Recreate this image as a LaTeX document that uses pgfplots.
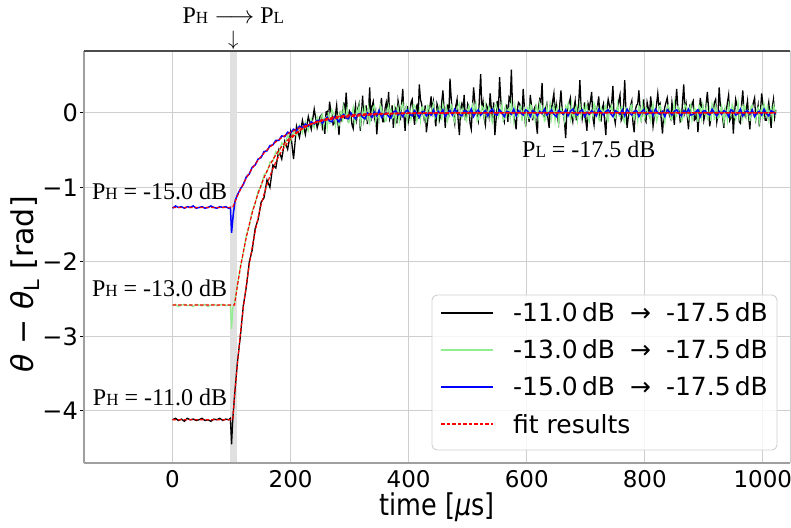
\documentclass[border=0pt]{standalone}
\usepackage{graphicx}
\usepackage{pgfplots}
\pgfplotsset{compat=1.18}
\usepackage{fontspec}
\setmainfont{DejaVu Sans}
\newfontfamily\serifTNR{Liberation Serif}
\definecolor{lgreen}{HTML}{90EE90}
\definecolor{gridgray}{HTML}{CFCFCF}
\definecolor{bandgray}{HTML}{E0E0E0}
\definecolor{fitred}{HTML}{FF0000}
\begin{document}
\begin{tikzpicture}
\path[use as bounding box] (-84pt,-64pt) rectangle (707pt,463pt);
\begin{axis}[
  at={(0pt,0pt)}, anchor=south west,
  scale only axis, width=706pt, height=412pt,
  xmin=-150, xmax=1046, ymin=-4.70, ymax=0.83,
  xtick={0,200,400,600,800,1000},
  xticklabels={0,200,400,600,800,1000},
  ytick={-4,-3,-2,-1,0},
  yticklabels={−4,−3,−2,−1,0},
  grid=major, grid style={color=gridgray, line width=0.9pt},
  yticklabel style={font=\fontsize{24}{28}\selectfont, inner sep=2pt},
  xticklabel style={font=\fontsize{23}{27}\selectfont, inner sep=1pt, yshift=-2pt},
  xtick style={draw=none},
  ytick style={black, line width=0.9pt},
  tick align=outside, major tick length=4pt,
  axis line style={draw=none},
  xlabel={\scalebox{0.85}[1]{time [{\itshape μ}s]}},
  ylabel={{\itshape θ} − {\itshape θ}\textsubscript{L} [rad]},
  label style={font=\fontsize{30}{34}\selectfont},
  xlabel style={at={(rel axis cs:0.5,0)}, anchor=center, inner sep=0pt, yshift=-44pt},
  ylabel style={at={(rel axis cs:0,0.434)}, anchor=center, yshift=59pt},
  clip=false,
]
\addplot[fill=bandgray, draw=none, forget plot] coordinates {(97,-4.70) (110,-4.70) (110,0.83) (97,0.83)} -- cycle;

% black: -11.0 dB -> -17.5 dB
\addplot[color=black, line width=1.3pt] coordinates {
(0,-4.12)(5,-4.10)(10,-4.13)(15,-4.11)(20,-4.14)(25,-4.10)(30,-4.12)(35,-4.11)(40,-4.13)(45,-4.12)(50,-4.10)(55,-4.13)(60,-4.12)(65,-4.14)(70,-4.11)(75,-4.12)(80,-4.10)(85,-4.13)(90,-4.11)(95,-4.12)(98,-4.10)(100,-4.45)(102,-4.12)(105,-3.80)(110,-3.34)(115,-2.99)(120,-2.58)(125,-2.34)(130,-2.00)(135,-1.84)(140,-1.55)(145,-1.43)(150,-1.20)(155,-1.14)(160,-0.90)(165,-1.00)(170,-0.70)(175,-0.74)(180,-0.50)(185,-0.62)(190,-0.38)(195,-0.49)(200,-0.26)(205,-0.62)(210,-0.18)(215,-0.33)(220,-0.10)(225,-0.29)(230,-0.05)(235,-0.22)(240,0.05)(245,-0.20)
(250,-0.05)(252,-0.03)(254,-0.21)(256,-0.17)(258,-0.28)(260,0.01)(262,0.02)(264,-0.11)(266,0.15)(268,0.03)
(270,-0.03)(272,-0.16)(274,-0.14)(276,-0.02)(278,0.10)(280,-0.12)(282,-0.30)(284,0.02)(286,-0.09)(288,-0.04)
(290,0.14)(292,-0.08)(294,0.27)(296,0.06)(298,-0.13)(300,0.02)(302,-0.01)(304,-0.16)(306,-0.21)(308,-0.02)
(310,0.10)(312,-0.08)(314,0.06)(316,0.12)(318,-0.24)(320,-0.02)(322,0.23)(324,-0.10)(326,-0.02)(328,0.10)
(330,-0.15)(332,0.03)(334,0.34)(336,-0.11)(338,0.09)(340,0.15)(342,-0.07)(344,0.01)(346,-0.29)(348,-0.07)
(350,0.04)(352,0.08)(354,0.20)(356,-0.12)(358,-0.12)(360,0.06)(362,0.14)(364,0.00)(366,0.28)(368,-0.08)
(370,-0.02)(372,0.10)(374,-0.20)(376,0.02)(378,0.06)(380,-0.14)(382,0.16)(384,0.06)(386,-0.10)(388,0.12)(390,0.32)(392,-0.04)(394,-0.24)(396,0.08)(398,0.08)(400,-0.10)(402,0.00)(404,0.14)(406,0.18)(408,-0.02)
(410,-0.16)(412,0.06)(414,0.10)(416,-0.08)(418,0.38)(420,0.18)(422,0.12)(424,0.00)(426,-0.08)(428,0.10)(430,-0.26)(432,-0.12)(434,0.04)(436,0.08)(438,0.22)(440,0.02)(442,0.14)(444,-0.06)(446,-0.18)(448,0.12)
(450,0.06)(452,-0.10)(454,-0.04)(456,0.14)(458,0.30)(460,0.04)(462,-0.20)(464,0.08)(466,0.10)(468,-0.06)(470,0.46)(472,0.20)(474,0.02)(476,-0.04)(478,-0.14)(480,0.10)(482,0.18)(484,-0.12)(486,-0.30)(488,0.06)
(490,0.12)(492,0.02)(494,0.24)(496,-0.08)(498,-0.06)(500,0.12)(502,0.08)(504,-0.14)(506,-0.22)(508,0.06)(510,0.34)(512,0.16)(514,0.04)(516,-0.02)(518,-0.10)(520,0.22)(522,0.52)(524,0.04)(526,0.14)(528,-0.08)
(530,-0.16)(532,0.10)(534,0.06)(536,-0.04)(538,0.26)(540,0.06)(542,-0.08)(544,0.14)(546,-0.30)(548,-0.10)(550,0.16)(552,0.02)(554,0.48)(556,0.18)(558,0.00)(560,-0.06)(562,-0.12)(564,0.08)(566,0.10)(568,-0.12)
(570,0.20)(572,0.16)(574,0.58)(576,0.06)(578,-0.04)(580,-0.10)(582,-0.22)(584,0.04)(586,0.14)(588,0.12)(590,0.06)(592,-0.06)(594,0.32)(596,0.08)(598,-0.18)(600,0.00)(602,0.02)(604,-0.12)(606,0.24)(608,0.10)
(610,-0.10)(612,0.04)(614,0.08)(616,-0.14)(618,-0.28)(620,0.08)(622,0.18)(624,0.14)(626,0.40)(628,-0.02)(630,-0.06)(632,0.06)(634,0.12)(636,-0.08)(638,-0.20)(640,0.10)(642,0.04)(644,0.16)(646,0.26)(648,-0.04)
(650,0.10)(652,-0.06)(654,-0.14)(656,0.12)(658,0.30)(660,0.04)(662,-0.02)(664,-0.12)(666,-0.34)(668,0.02)(670,0.08)(672,0.14)(674,0.20)(676,-0.04)(678,-0.12)(680,0.06)(682,0.16)(684,-0.10)(686,0.02)(688,0.12)
(690,0.44)(692,0.08)(694,-0.08)(696,0.02)(698,0.14)(700,-0.10)(702,-0.24)(704,0.12)(706,0.06)(708,0.16)(710,0.28)(712,-0.06)(714,-0.16)(716,0.04)(718,0.00)(720,0.10)(722,0.22)(724,-0.08)(726,-0.10)(728,0.06)
(730,0.12)(732,-0.12)(734,-0.30)(736,0.06)(738,0.18)(740,0.10)(742,0.04)(744,0.14)(746,0.36)(748,-0.04)(750,-0.14)(752,0.02)(754,0.08)(756,0.16)(758,0.24)(760,-0.10)(762,-0.06)(764,0.08)(766,0.44)(768,0.04)
(770,-0.20)(772,-0.06)(774,0.02)(776,0.10)(778,0.16)(780,-0.14)(782,-0.26)(784,0.04)(786,0.10)(788,0.12)(790,0.30)(792,0.06)(794,-0.08)(796,0.02)(798,0.18)(800,-0.08)(802,-0.12)(804,0.14)(806,0.06)(808,-0.02)
(810,0.22)(812,0.04)(814,-0.18)(816,-0.06)(818,0.00)(820,0.12)(822,0.26)(824,0.08)(826,0.12)(828,-0.10)(830,-0.28)(832,0.00)(834,0.08)(836,0.14)(838,0.20)(840,0.06)(842,-0.04)(844,-0.08)(846,0.14)(848,0.02)
(850,-0.16)(852,0.10)(854,0.32)(856,0.06)(858,0.06)(860,-0.12)(862,-0.10)(864,0.16)(866,0.38)(868,0.02)(870,0.12)(872,-0.04)(874,-0.22)(876,0.08)(878,0.04)(880,0.12)(882,0.16)(884,-0.10)(886,-0.08)(888,0.04)
(890,-0.26)(892,-0.04)(894,0.20)(896,0.08)(898,0.10)(900,-0.10)(902,-0.02)(904,0.12)(906,0.28)(908,0.06)(910,-0.18)(912,-0.06)(914,0.06)(916,0.02)(918,0.14)(920,0.18)(922,-0.12)(924,-0.02)(926,0.34)(928,0.10)
(930,0.08)(932,-0.08)(934,-0.20)(936,0.04)(938,0.02)(940,0.14)(942,0.24)(944,-0.10)(946,-0.06)(948,0.06)(950,-0.28)(952,0.00)(954,0.18)(956,0.10)(958,0.10)(960,-0.12)(962,-0.14)(964,0.12)(966,0.30)(968,0.02)
(970,-0.04)(972,0.06)(974,0.16)(976,-0.06)(978,-0.22)(980,0.04)(982,0.06)(984,0.14)(986,0.20)(988,-0.08)(990,0.00)(992,0.10)(994,-0.18)(996,0.02)(998,0.26)(1000,0.12)(1002,0.08)(1004,-0.10)(1006,-0.10)(1008,0.04)
(1010,0.14)(1012,-0.04)(1014,-0.20)(1016,0.08)(1018,0.18)(1020,-0.06)(1022,0.04)
};

% green: -13.0 dB -> -17.5 dB
\addplot[color=lgreen, line width=1.3pt] coordinates {
(0,-2.59)(5,-2.57)(10,-2.60)(15,-2.58)(20,-2.57)(25,-2.59)(30,-2.58)(35,-2.60)(40,-2.57)(45,-2.58)(50,-2.59)(55,-2.57)(60,-2.60)(65,-2.58)(70,-2.57)(75,-2.59)(80,-2.58)(85,-2.57)(90,-2.59)(95,-2.58)(98,-2.58)(100,-2.90)(102,-2.62)(105,-2.55)(110,-2.30)(115,-2.06)(120,-1.88)(125,-1.64)(130,-1.52)(135,-1.31)(140,-1.22)(145,-1.05)(150,-0.99)(155,-0.83)(160,-0.80)(165,-0.66)(170,-0.65)(175,-0.52)(180,-0.55)(185,-0.40)(190,-0.45)(195,-0.30)(200,-0.38)(205,-0.24)(210,-0.31)(215,-0.17)(220,-0.27)(225,-0.12)(230,-0.24)(235,-0.08)(240,-0.20)(245,-0.05)
(250,-0.15)(252,-0.04)(254,-0.02)(256,-0.18)(258,-0.07)(260,-0.06)(262,-0.19)(264,0.01)(266,-0.14)(268,-0.13)
(270,0.04)(272,0.01)(274,-0.02)(276,-0.17)(278,-0.08)(280,-0.04)(282,-0.18)(284,0.02)(286,0.02)(288,-0.12)
(290,0.07)(292,-0.03)(294,-0.07)(296,0.05)(298,-0.13)(300,-0.11)(302,0.00)(304,0.00)(306,0.07)(308,-0.14)
(310,-0.10)(312,0.04)(314,-0.02)(316,0.09)(318,-0.16)(320,-0.05)(322,0.04)(324,-0.10)(326,0.07)(328,0.00)
(330,-0.07)(332,0.06)(334,-0.13)(336,-0.07)(338,0.01)(340,0.08)(342,0.10)(344,-0.11)(346,-0.02)(348,0.01)
(350,-0.09)(352,0.11)(354,0.06)(356,-0.03)(358,0.01)(360,-0.11)(362,-0.11)(364,0.04)(366,0.10)(368,-0.01)
(370,0.04)(372,-0.08)(374,-0.06)(376,0.06)(378,-0.12)(380,0.02)(382,0.08)(384,-0.11)(386,0.01)(388,0.09)(390,0.13)(392,-0.01)(394,-0.04)(396,0.07)(398,-0.09)(400,0.03)(402,0.06)(404,-0.09)(406,-0.02)(408,0.11)
(410,0.10)(412,0.04)(414,-0.11)(416,-0.06)(418,0.03)(420,-0.10)(422,0.07)(424,0.08)(426,-0.06)(428,0.01)(430,-0.13)(432,0.10)(434,0.09)(436,-0.05)(438,0.00)(440,0.06)(442,0.12)(444,-0.08)(446,-0.05)(448,0.03)
(450,-0.08)(452,0.09)(454,0.05)(456,-0.10)(458,0.11)(460,0.02)(462,-0.03)(464,0.07)(466,-0.10)(468,-0.04)(470,0.02)(472,0.11)(474,0.08)(476,-0.07)(478,-0.12)(480,0.00)(482,0.06)(484,0.10)(486,0.13)(488,-0.03)
(490,-0.07)(492,0.06)(494,0.01)(496,-0.08)(498,-0.11)(500,0.04)(502,0.09)(504,-0.02)(506,0.04)(508,0.10)(510,-0.02)(512,0.07)(514,0.12)(516,-0.11)(518,-0.09)(520,0.03)(522,-0.04)(524,0.09)(526,0.07)(528,-0.06)
(530,0.10)(532,-0.02)(534,-0.06)(536,0.08)(538,0.02)(540,-0.09)(542,-0.13)(544,0.05)(546,0.08)(548,0.11)(550,0.05)(552,-0.06)(554,-0.01)(556,0.02)(558,0.11)(560,-0.10)(562,-0.08)(564,0.07)(566,-0.03)(568,0.04)
(570,0.06)(572,-0.07)(574,0.13)(576,0.03)(578,-0.10)(580,0.10)(582,0.00)(584,-0.05)(586,-0.05)(588,0.08)(590,0.09)(592,-0.11)(594,0.03)(596,0.06)(598,-0.12)(600,0.01)(602,0.07)(604,-0.08)(606,0.11)(608,0.09)
(610,-0.04)(612,0.02)(614,-0.09)(616,0.10)(618,0.05)(620,-0.06)(622,0.12)(624,0.04)(626,-0.02)(628,0.07)(630,-0.11)(632,-0.09)(634,0.08)(636,-0.02)(638,0.01)(640,0.11)(642,-0.07)(644,0.05)(646,0.10)(648,-0.10)
(650,0.03)(652,0.08)(654,-0.13)(656,-0.03)(658,0.06)(660,0.01)(662,-0.01)(664,-0.10)(666,0.09)(668,0.06)(670,0.12)(672,0.03)(674,-0.08)(676,0.10)(678,-0.04)(680,-0.07)(682,0.05)(684,0.09)(686,-0.10)(688,-0.01)
(690,0.11)(692,-0.05)(694,0.02)(696,0.07)(698,-0.06)(700,0.11)(702,0.08)(704,-0.08)(706,-0.12)(708,0.02)(710,0.04)(712,-0.04)(714,0.13)(716,0.09)(718,-0.03)(720,0.05)(722,-0.09)(724,-0.11)(726,0.07)(728,0.03)
(730,-0.01)(732,0.06)(734,0.10)(736,-0.09)(738,-0.11)(740,0.04)(742,0.05)(744,0.10)(746,0.02)(748,-0.06)(750,-0.07)(752,0.01)(754,0.12)(756,-0.03)(758,-0.05)(760,0.08)(762,0.08)(764,-0.10)(766,-0.13)(768,0.07)
(770,0.06)(772,0.02)(774,-0.02)(776,0.09)(778,0.11)(780,-0.05)(782,-0.08)(784,0.03)(786,0.03)(788,-0.10)(790,0.09)(792,0.06)(794,-0.12)(796,0.11)(798,0.00)(800,-0.07)(802,0.07)(804,0.04)(806,-0.04)(808,-0.02)
(810,-0.10)(812,0.07)(814,0.12)(816,-0.03)(818,0.04)(820,-0.11)(822,-0.06)(824,0.09)(826,0.10)(828,0.02)(830,-0.01)(832,-0.06)(834,-0.13)(836,0.05)(838,0.08)(840,0.10)(842,0.02)(844,-0.08)(846,-0.09)(848,0.01)
(850,0.13)(852,-0.04)(854,-0.05)(856,0.08)(858,0.06)(860,0.03)(862,-0.11)(864,-0.09)(866,0.01)(868,0.11)(870,0.09)(872,-0.02)(874,-0.07)(876,0.06)(878,0.11)(880,-0.10)(882,-0.03)(884,0.07)(886,0.04)(888,0.04)
(890,-0.12)(892,0.10)(894,0.07)(896,-0.06)(898,0.10)(900,0.01)(902,-0.02)(904,0.08)(906,-0.08)(908,-0.04)(910,0.05)(912,-0.11)(914,0.12)(916,0.05)(918,-0.10)(920,0.09)(922,0.03)(924,-0.07)(926,-0.06)(928,0.02)
(930,0.09)(932,-0.03)(934,-0.13)(936,0.07)(938,0.01)(940,-0.10)(942,0.11)(944,0.04)(946,-0.04)(948,0.11)(950,0.06)(952,-0.05)(954,-0.09)(956,0.02)(958,0.13)(960,-0.08)(962,-0.01)(964,0.06)(966,-0.07)(968,0.10)
(970,0.08)(972,-0.06)(974,0.02)(976,0.03)(978,-0.11)(980,0.09)(982,0.10)(984,-0.04)(986,-0.05)(988,-0.10)(990,0.04)(992,0.07)(994,-0.12)(996,0.01)(998,0.07)(1000,-0.08)(1002,0.12)(1004,0.05)(1006,-0.03)(1008,0.11)
(1010,-0.08)(1012,0.03)(1014,0.06)(1016,-0.07)(1018,0.10)(1020,0.05)(1022,-0.04)
};

% blue: -15.0 dB -> -17.5 dB
\addplot[color=blue, line width=1.5pt] coordinates {
(0,-1.28)(5,-1.25)(10,-1.27)(15,-1.26)(20,-1.28)(25,-1.26)(30,-1.27)(35,-1.25)(40,-1.28)(45,-1.27)(50,-1.26)(55,-1.28)(60,-1.27)(65,-1.25)(70,-1.27)(75,-1.28)(80,-1.26)(85,-1.27)(90,-1.26)(95,-1.28)(98,-1.27)(100,-1.61)(103,-1.35)(106,-1.18)(110,-1.10)(115,-1.02)(120,-0.96)(125,-0.86)(130,-0.82)(135,-0.73)(140,-0.70)(145,-0.62)(150,-0.60)(155,-0.52)(160,-0.51)(165,-0.44)(170,-0.43)(175,-0.37)(180,-0.37)(185,-0.31)(190,-0.32)(195,-0.26)(200,-0.27)(205,-0.22)(210,-0.24)(215,-0.18)(220,-0.20)(225,-0.15)(230,-0.18)(235,-0.12)(240,-0.15)(245,-0.10)
(250,-0.10)(254,-0.14)(258,-0.09)(262,-0.06)(266,-0.11)(270,-0.12)(274,-0.05)(278,-0.08)(282,-0.12)(286,-0.05)
(290,-0.02)(294,-0.07)(298,-0.08)(302,0.00)(306,-0.04)(310,-0.08)(314,-0.02)(318,-0.01)(322,-0.06)(326,-0.08)
(330,0.00)(334,-0.02)(338,-0.06)(342,0.01)(346,-0.04)(350,0.03)(354,-0.06)(358,-0.02)(362,0.00)(366,-0.05)
(370,-0.07)(374,0.01)(378,0.03)(382,-0.03)(386,0.00)(390,-0.05)(394,0.01)(398,0.04)(402,-0.02)(406,-0.04)
(410,0.03)(414,-0.01)(418,-0.06)(422,0.01)(426,0.02)(430,-0.04)(434,0.00)(438,-0.03)(442,0.04)(446,-0.05)
(450,0.02)(454,-0.01)(458,0.04)(462,-0.05)(466,0.00)(470,0.03)(474,-0.03)(478,0.05)(482,0.01)(486,-0.02)
(490,-0.04)(494,0.03)(498,0.02)(502,-0.01)(506,0.05)(510,-0.05)(514,0.01)(518,0.04)(522,-0.03)(526,0.00)
(530,0.03)(534,-0.04)(538,0.02)(542,0.05)(546,-0.02)(550,-0.03)(554,0.04)(558,0.00)(562,-0.05)(566,0.02)
(570,0.01)(574,-0.02)(578,0.05)(582,-0.04)(586,0.03)(590,0.00)(594,-0.03)(598,0.04)(602,0.02)(606,-0.05)
(610,0.03)(614,0.01)(618,-0.04)(622,0.02)(626,-0.01)(630,0.05)(634,-0.03)(638,0.00)(642,0.04)(646,-0.02)
(650,-0.05)(654,0.03)(658,0.01)(662,-0.02)(666,0.04)(670,-0.04)(674,0.02)(678,0.05)(682,-0.01)(686,-0.03)
(690,0.02)(694,0.04)(698,-0.05)(702,0.01)(706,-0.02)(710,0.03)(714,0.00)(718,-0.04)(722,0.05)(726,0.01)
(730,-0.03)(734,0.02)(738,0.04)(742,-0.01)(746,-0.05)(750,0.03)(754,0.01)(758,-0.02)(762,0.04)(766,-0.04)
(770,0.05)(774,0.00)(778,-0.03)(782,0.02)(786,0.03)(790,-0.05)(794,0.01)(798,0.04)(802,-0.02)(806,-0.01)
(810,0.03)(814,-0.04)(818,0.05)(822,0.00)(826,-0.02)(830,0.02)(834,-0.05)(838,0.04)(842,0.01)(846,-0.03)
(850,0.02)(854,0.04)(858,-0.01)(862,-0.04)(866,0.03)(870,0.00)(874,0.05)(878,-0.03)(882,-0.02)(886,0.01)
(890,0.04)(894,-0.05)(898,0.02)(902,0.03)(906,-0.01)(910,-0.03)(914,0.05)(918,0.00)(922,-0.04)(926,0.02)
(930,-0.02)(934,0.03)(938,0.01)(942,-0.05)(946,0.04)(950,0.02)(954,-0.03)(958,-0.01)(962,0.05)(966,-0.04)
(970,0.01)(974,0.03)(978,-0.02)(982,0.04)(986,-0.05)(990,0.00)(994,0.02)(998,-0.03)(1002,0.05)(1006,-0.01)
(1010,-0.04)(1014,0.03)(1018,0.01)(1022,-0.02)
};

% fits
\addplot[color=fitred, line width=1.2pt, dash pattern=on 3.7pt off 1.8pt] coordinates {
(0,-4.12)(102,-4.12)(105,-3.80)(110,-3.36)(115,-2.96)(120,-2.61)(125,-2.31)(130,-2.04)(135,-1.80)(140,-1.59)(145,-1.40)(150,-1.235)(155,-1.09)(160,-0.96)(165,-0.85)(170,-0.75)(175,-0.66)(180,-0.58)(185,-0.515)(190,-0.454)(195,-0.40)(200,-0.354)(205,-0.312)(210,-0.276)(215,-0.243)(220,-0.215)(225,-0.189)(230,-0.167)(235,-0.148)(240,-0.130)(245,-0.115)(250,-0.101)(260,-0.079)(270,-0.062)(280,-0.048)(290,-0.038)(300,-0.029)(320,-0.018)(340,-0.011)(360,-0.007)(400,-0.002)(450,0)(1022,0)
};
\addplot[color=fitred, line width=1.2pt, dash pattern=on 3.7pt off 1.8pt] coordinates {
(0,-2.58)(105,-2.58)(110,-2.314)(115,-2.076)(120,-1.862)(125,-1.670)(130,-1.498)(135,-1.344)(140,-1.206)(145,-1.081)(150,-0.970)(155,-0.870)(160,-0.780)(165,-0.700)(170,-0.628)(175,-0.563)(180,-0.505)(185,-0.453)(190,-0.407)(195,-0.365)(200,-0.327)(205,-0.293)(210,-0.263)(215,-0.236)(220,-0.212)(225,-0.190)(230,-0.170)(235,-0.153)(240,-0.137)(245,-0.123)(250,-0.110)(260,-0.089)(270,-0.071)(280,-0.057)(290,-0.046)(300,-0.037)(320,-0.024)(340,-0.015)(360,-0.010)(380,-0.0065)(400,-0.004)(450,-0.001)(1022,0)
};
\addplot[color=fitred, line width=1.2pt, dash pattern=on 3.7pt off 1.8pt] coordinates {
(0,-1.27)(102,-1.27)(105,-1.210)(110,-1.116)(115,-1.030)(120,-0.950)(125,-0.876)(130,-0.808)(135,-0.746)(140,-0.688)(145,-0.635)(150,-0.586)(155,-0.540)(160,-0.498)(165,-0.460)(170,-0.424)(175,-0.391)(180,-0.361)(185,-0.333)(190,-0.307)(195,-0.283)(200,-0.261)(205,-0.241)(210,-0.223)(215,-0.205)(220,-0.189)(225,-0.175)(230,-0.161)(235,-0.149)(240,-0.137)(245,-0.126)(250,-0.117)(260,-0.099)(270,-0.085)(280,-0.072)(290,-0.061)(300,-0.052)(320,-0.038)(340,-0.027)(360,-0.020)(380,-0.014)(400,-0.010)(450,-0.005)(500,-0.002)(550,0)(1022,0)
};

% spines
\draw[color=gray!75, line width=1.2pt] (rel axis cs:0,0) -- (rel axis cs:0,1);
\draw[color=gray!75, line width=1.2pt] (rel axis cs:0,0) -- (rel axis cs:1,0);
\draw[color=black!70, line width=1.2pt] (rel axis cs:0,1) -- (rel axis cs:1,1);
\draw[color=gridgray, line width=1.0pt] (rel axis cs:1,0) -- (rel axis cs:1,1);

% annotations
\node[anchor=base, font=\serifTNR\fontsize{24}{24}\selectfont, inner sep=0pt] at (axis cs:103,0.83) [yshift=27pt] {P{\fontsize{17}{17}\selectfont H} $\longrightarrow$ P{\fontsize{17}{17}\selectfont L}};
\node[anchor=center, font=\fontsize{20}{20}\selectfont, inner sep=0pt] at (axis cs:103,0.83) [yshift=11pt] {$\downarrow$};
\node[anchor=base east, font=\serifTNR\fontsize{24}{24}\selectfont, inner sep=0pt] at (axis cs:93,-1.168) {P{\fontsize{17}{17}\selectfont H} = -15.0 dB};
\node[anchor=base east, font=\serifTNR\fontsize{24}{24}\selectfont, inner sep=0pt] at (axis cs:93,-2.47) {P{\fontsize{17}{17}\selectfont H} = -13.0 dB};
\node[anchor=base east, font=\serifTNR\fontsize{24}{24}\selectfont, inner sep=0pt] at (axis cs:93,-3.93) {P{\fontsize{17}{17}\selectfont H} = -11.0 dB};
\node[anchor=base west, font=\serifTNR\fontsize{24}{24}\selectfont, inner sep=0pt] at (axis cs:592,-0.60) {P{\fontsize{17}{17}\selectfont L} = -17.5 dB};
\end{axis}
% legend (origin = lower-left corner of the axis box)
\draw[gridgray, line width=0.9pt, fill=white, fill opacity=0.8, rounded corners=5pt] (348pt,13pt) rectangle (693pt,168pt);
\draw[black, line width=1.5pt] (357pt,150pt) -- (409pt,150pt);
\draw[lgreen, line width=1.5pt] (357pt,113pt) -- (409pt,113pt);
\draw[blue, line width=1.5pt] (357pt,76pt) -- (409pt,76pt);
\draw[fitred, line width=1.2pt, dash pattern=on 3.7pt off 1.8pt] (357pt,39pt) -- (409pt,39pt);
\node[anchor=base west, inner sep=0pt, font=\fontsize{25}{29}\selectfont] at (429pt,141pt) {-11.0\,dB\hspace{0.6em}→\hspace{0.6em}-17.5\,dB};
\node[anchor=base west, inner sep=0pt, font=\fontsize{25}{29}\selectfont] at (429pt,104pt) {-13.0\,dB\hspace{0.6em}→\hspace{0.6em}-17.5\,dB};
\node[anchor=base west, inner sep=0pt, font=\fontsize{25}{29}\selectfont] at (429pt,67pt) {-15.0\,dB\hspace{0.6em}→\hspace{0.6em}-17.5\,dB};
\node[anchor=base west, inner sep=0pt, font=\fontsize{25}{29}\selectfont] at (429pt,30pt) {fit results};
\end{tikzpicture}
\end{document}
